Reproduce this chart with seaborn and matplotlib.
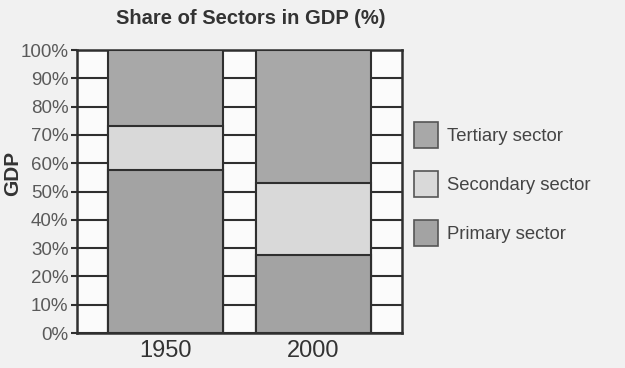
import pandas as pd
import seaborn as sns
import matplotlib.pyplot as plt
from matplotlib.patches import Patch

# Data (percent of GDP)
years = ["1950", "2000"]
primary = [57.5, 27.5]
secondary = [15.5, 25.5]
tertiary = [27.0, 47.0]

sectors = ["Tertiary sector", "Secondary sector", "Primary sector"]
colors = {"Tertiary sector": "#a8a8a8", "Secondary sector": "#d9d9d9", "Primary sector": "#a3a3a3"}

# cumulative tops so the bars can be overlaid from tallest to shortest
df = pd.DataFrame({"year": years, "primary": primary, "secondary": secondary, "tertiary": tertiary})
df["top_secondary"] = df["primary"] + df["secondary"]
df["top_tertiary"] = df["top_secondary"] + df["tertiary"]

sns.set_style("white")
plt.rcParams["font.family"] = ["Liberation Sans", "DejaVu Sans"]

fig = plt.figure(figsize=(6.25, 3.68), dpi=100, facecolor="#f1f1f1")
ax = fig.add_axes([0.123, 0.095, 0.52, 0.769])
ax.set_facecolor("#fbfbfb")

for ycol, name in [("top_tertiary", "Tertiary sector"),
                   ("top_secondary", "Secondary sector"),
                   ("primary", "Primary sector")]:
    sns.barplot(data=df, x="year", y=ycol, color=colors[name], width=0.78,
                edgecolor="#2f2f2f", linewidth=1.5, saturation=1, ax=ax, zorder=3)

ax.set_xlim(-0.6, 1.6)
ax.set_ylim(0, 100)
ax.set_yticks(range(0, 101, 10))
ax.set_yticklabels([f"{v}%" for v in range(0, 101, 10)])
ax.yaxis.grid(True, color="#2f2f2f", linewidth=1.5, zorder=1)
ax.set_axisbelow(True)
for s in ax.spines.values():
    s.set_color("#2f2f2f")
    s.set_linewidth(1.8)

ax.tick_params(axis="y", length=4, width=1.5, color="#2f2f2f", labelsize=13.5,
               labelcolor="#5a5a5a", pad=2, left=True)
ax.tick_params(axis="x", length=0, labelsize=17, labelcolor="#333333", pad=5)
ax.set_xlabel("")
ax.set_ylabel("GDP", fontsize=15, fontweight="bold", color="#333333")
ax.yaxis.set_label_coords(-0.168, 0.565)
ax.set_title("Share of Sectors in GDP (%)", fontsize=14.5, fontweight="bold",
             color="#333333", pad=19, x=0.535)

handles = [Patch(facecolor=colors[n], edgecolor="#555555", linewidth=1.2, label=n) for n in sectors]
leg = fig.legend(handles=handles, loc="center left", bbox_to_anchor=(0.635, 0.5),
                 frameon=False, fontsize=13.3, handlelength=1.35, handleheight=1.8,
                 labelspacing=1.25, handletextpad=0.45)
for t in leg.get_texts():
    t.set_color("#444444")

plt.savefig("out.png", dpi=100, facecolor=fig.get_facecolor())
